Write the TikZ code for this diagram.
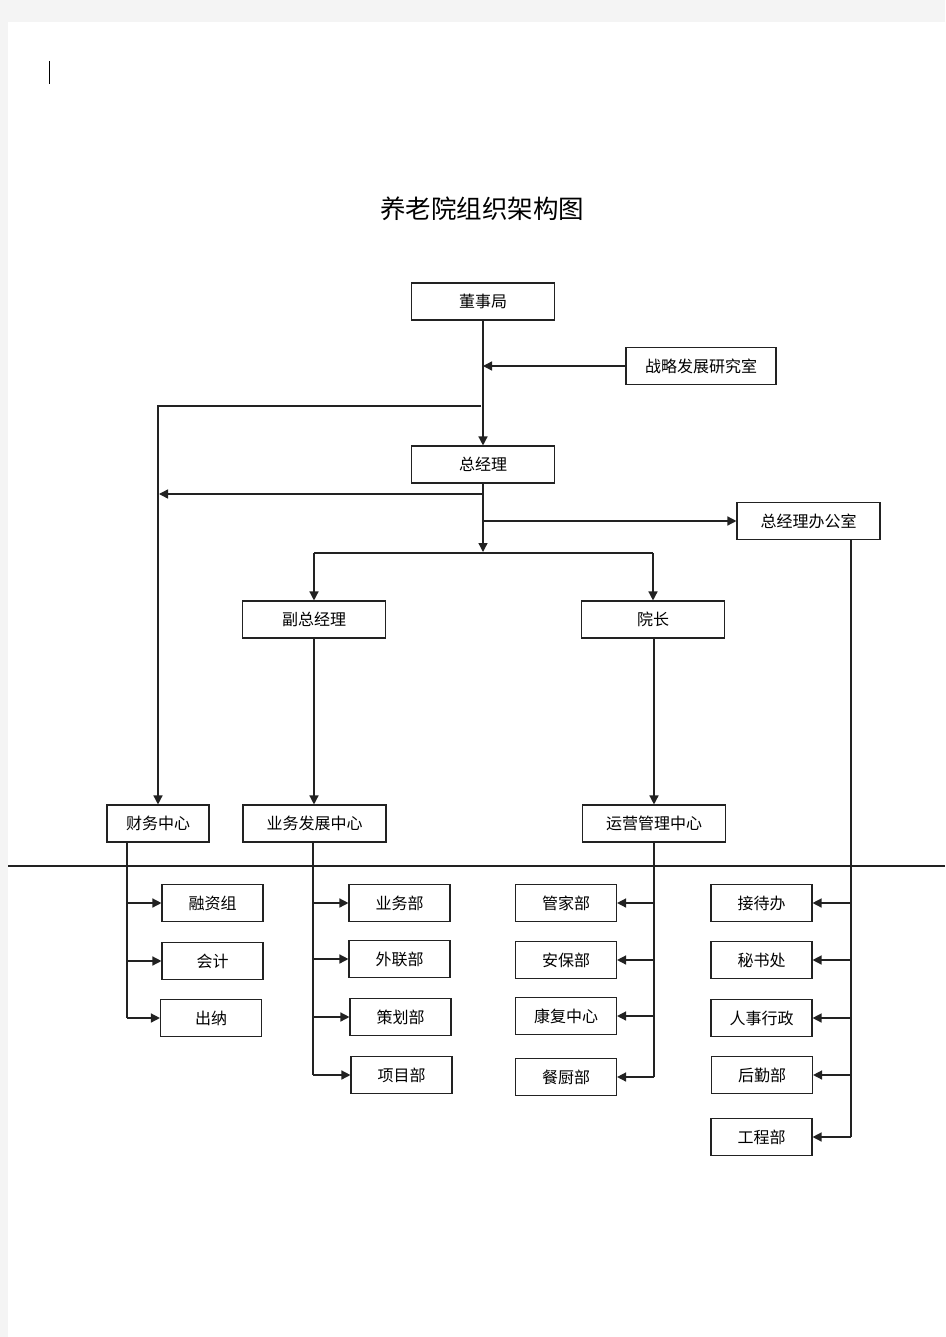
\documentclass[tikz,border=0pt]{standalone}
\usepackage{fontspec}
\newfontfamily\cjk{Noto Sans CJK SC}
\usetikzlibrary{arrows.meta}
\definecolor{pagegray}{HTML}{F4F4F4}
\definecolor{ink}{HTML}{222222}
\tikzset{
  box/.style={draw=ink, line width=1.1pt, fill=white, inner sep=0pt,
    minimum height=37pt, font=\cjk\fontsize{16}{18}\selectfont},
  bigbox/.style={box, minimum width=143pt},
  smallbox/.style={box, minimum width=101pt},
  link/.style={draw=ink, line width=1.4pt},
  arr/.style={link, -{Triangle[length=9pt,width=9pt]}},
}
\begin{document}
\begin{tikzpicture}[x=1pt,y=-1pt]
\useasboundingbox (0,0) rectangle (945,1337);
\fill[pagegray] (0,0) rectangle (945,1337);
\fill[white] (8,22) rectangle (945,1337);
\draw[black, line width=1pt] (49,61) -- (49,84);

\node[font=\cjk\fontsize{25.5}{30}\selectfont] (title) at (482,209) {养老院组织架构图};

% top level
\node[bigbox] (dsj) at (483,301.5) {董事局};
\node[box, minimum width=150pt] (zl) at (701,366) {战略发展研究室};
\node[bigbox] (zjl) at (483,464.5) {总经理};
\node[bigbox] (bgs) at (808.5,521) {总经理办公室};
\node[bigbox] (fz) at (314,619.5) {副总经理};
\node[bigbox] (yz) at (653,619.5) {院长};
\node[box, minimum width=102pt] (cw) at (158,823.5) {财务中心};
\node[bigbox] (ywfz) at (314.5,823.5) {业务发展中心};
\node[bigbox] (yy) at (654,823.5) {运营管理中心};

% second level
\node[smallbox] (rz) at (212.5,903) {融资组};
\node[smallbox] (kj) at (212.5,961) {会计};
\node[smallbox] (cn) at (211,1018) {出纳};
\node[smallbox] (ywb) at (399.5,903) {业务部};
\node[smallbox] (wl) at (399.5,959) {外联部};
\node[smallbox] (ch) at (400.5,1017) {策划部};
\node[smallbox] (xm) at (401.5,1075) {项目部};
\node[smallbox] (gj) at (566,903) {管家部};
\node[smallbox] (ab) at (566,960) {安保部};
\node[smallbox] (kf) at (566,1016) {康复中心};
\node[smallbox] (cc) at (566,1077) {餐厨部};
\node[smallbox] (jd) at (761.5,903) {接待办};
\node[smallbox] (ms) at (761.5,960) {秘书处};
\node[smallbox] (rs) at (761.5,1018) {人事行政};
\node[smallbox] (hq) at (762,1075) {后勤部};
\node[smallbox] (gc) at (761.5,1137) {工程部};

% separator
\draw[ink, line width=1.2pt] (8,866) -- (945,866);

% junction coordinates
\coordinate (t1) at (481,406);
\coordinate (t2) at (483,494);
\coordinate (t2l) at (159,494);
\coordinate (t3) at (483,521);
\coordinate (t4) at (483,553);
\coordinate (cwx) at (127,842);
\coordinate (ywx) at (313,842);
\coordinate (yyx) at (654,842);
\coordinate (bgx) at (851,539);

% top connectors
\draw[arr] (dsj.south) -- (zjl.north);
\draw[arr] (zl.west) -- (zl.west -| dsj.south);
\draw[arr] (t1) -| (cw.north);
\draw[arr] (t2) -- (t2l);
\draw[arr] (t3) -- (bgs.west);
\draw[arr] (zjl.south) -- ([yshift=1pt]t4);
\draw[link] (fz.north |- t4) -- (yz.north |- t4);
\draw[arr] (fz.north |- t4) -- (fz.north);
\draw[arr] (yz.north |- t4) -- (yz.north);
\draw[arr] (fz.south) -- (fz.south |- ywfz.north);
\draw[arr] (yy.north |- yz.south) -- (yy.north);

% finance branch
\draw[link] (cwx) -- (cwx |- cn.west);
\draw[arr] (cwx |- rz.west) -- (rz.west);
\draw[arr] (cwx |- kj.west) -- (kj.west);
\draw[arr] (cwx |- cn.west) -- (cn.west);

% business development branch
\draw[link] (ywx) -- (ywx |- xm.west);
\draw[arr] (ywx |- ywb.west) -- (ywb.west);
\draw[arr] (ywx |- wl.west) -- (wl.west);
\draw[arr] (ywx |- ch.west) -- (ch.west);
\draw[arr] (ywx |- xm.west) -- (xm.west);

% operations branch
\draw[link] (yyx) -- (yyx |- cc.east);
\draw[arr] (yyx |- gj.east) -- (gj.east);
\draw[arr] (yyx |- ab.east) -- (ab.east);
\draw[arr] (yyx |- kf.east) -- (kf.east);
\draw[arr] (yyx |- cc.east) -- (cc.east);

% office branch
\draw[link] (bgx) -- (bgx |- gc.east);
\draw[arr] (bgx |- jd.east) -- (jd.east);
\draw[arr] (bgx |- ms.east) -- (ms.east);
\draw[arr] (bgx |- rs.east) -- (rs.east);
\draw[arr] (bgx |- hq.east) -- (hq.east);
\draw[arr] (bgx |- gc.east) -- (gc.east);
\end{tikzpicture}
\end{document}
